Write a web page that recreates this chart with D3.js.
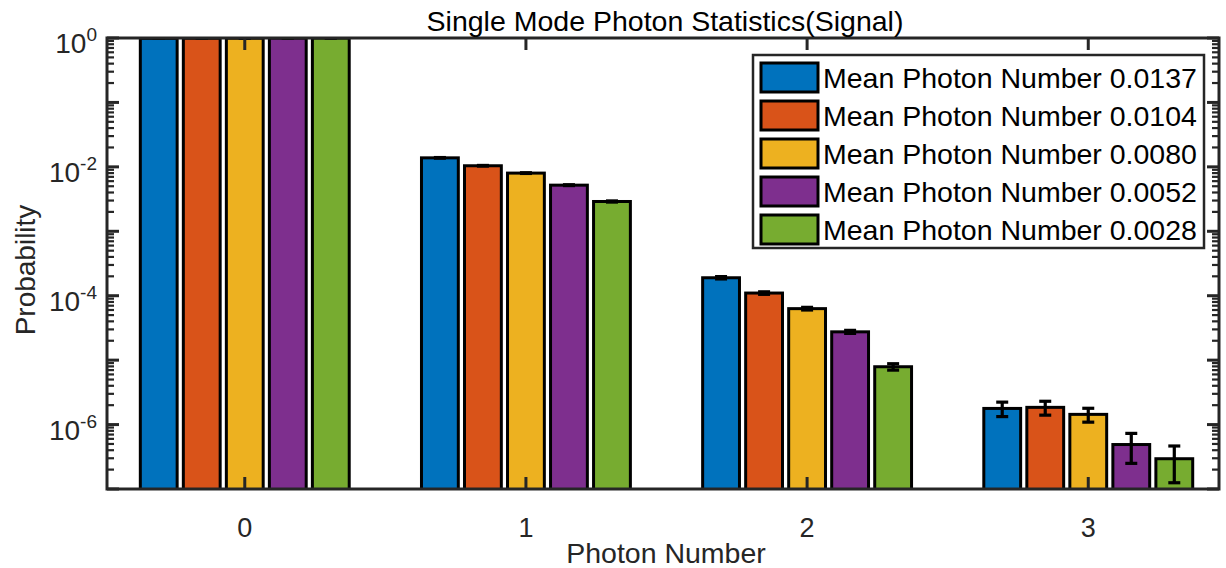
<!DOCTYPE html>
<html>
<head>
<meta charset="utf-8">
<script src="https://cdn.jsdelivr.net/npm/d3@7"></script>
<style>
  body { margin: 0; background: #fff; }
  svg { display: block; font-family: "Liberation Sans", Arial, Helvetica, sans-serif; }
</style>
</head>
<body>
<svg id="chart" width="1226" height="568"></svg>
<script>
// data
var photonNumbers = [0, 1, 2, 3];
var seriesLabels = [
  "Mean Photon Number 0.0137",
  "Mean Photon Number 0.0104",
  "Mean Photon Number 0.0080",
  "Mean Photon Number 0.0052",
  "Mean Photon Number 0.0028"
];
var seriesColors = ["#0072BD", "#D95319", "#EDB120", "#7E2F8E", "#77AC30"];
// probability per series, one value for each photon number
var probabilities = [
  [0.986, 1.38e-2, 1.90e-4, 1.78e-6],
  [0.990, 1.04e-2, 1.10e-4, 1.85e-6],
  [0.992, 8.0e-3, 6.3e-5, 1.44e-6],
  [0.995, 5.2e-3, 2.75e-5, 4.9e-7],
  [0.997, 2.9e-3, 7.9e-6, 2.95e-7]
];
var errors = [
  [0.001, 1.5e-4, 8e-6, 4.5e-7],
  [0.001, 1.2e-4, 5e-6, 4.5e-7],
  [0.001, 1.0e-4, 3e-6, 3.5e-7],
  [0.001, 8e-5, 1.5e-6, 2.4e-7],
  [0.001, 6e-5, 9e-7, 1.7e-7]
];
var yTickExponents = [0, -2, -4, -6];

(function(){
var svg = d3.select("#chart");
var pl = 107, pr = 1219, pt = 38, pb = 489;
var axisColor = "#262626";

var x = d3.scaleLinear().domain([-0.49, 3.465]).range([pl, pr]);
var y = d3.scaleLog().domain([1e-7, 1]).range([pb, pt]);

var groupStep = 0.153;   // distance between bars in a group (category units)
var barW = x(0.131) - x(0);

svg.append("defs").append("clipPath").attr("id", "plotclip")
  .append("rect").attr("x", pl).attr("y", pt).attr("width", pr - pl).attr("height", pb - pt);

var plot = svg.append("g").attr("clip-path", "url(#plotclip)");

probabilities.forEach(function(vals, s){
  var g = plot.append("g");
  g.selectAll("rect").data(vals).enter().append("rect")
    .attr("x", function(d, i){ return x(photonNumbers[i] + (s - 2) * groupStep) - barW / 2; })
    .attr("y", function(d){ return y(d); })
    .attr("width", barW)
    .attr("height", function(d){ return pb + 5 - y(d); })
    .attr("fill", seriesColors[s])
    .attr("stroke", "#000").attr("stroke-width", 3);
});

// error bars
probabilities.forEach(function(vals, s){
  vals.forEach(function(v, i){
    var cx = x(photonNumbers[i] + (s - 2) * groupStep);
    var hi = y(v + errors[s][i]), lo = y(Math.max(v - errors[s][i], 1e-9));
    var eb = plot.append("g").attr("stroke", "#000").attr("stroke-width", 3.2);
    eb.append("line").attr("x1", cx).attr("x2", cx).attr("y1", hi).attr("y2", lo);
    eb.append("line").attr("x1", cx - 6).attr("x2", cx + 6).attr("y1", hi).attr("y2", hi);
    eb.append("line").attr("x1", cx - 6).attr("x2", cx + 6).attr("y1", lo).attr("y2", lo);
  });
});

// axes box, then inward ticks on all four sides
svg.append("rect").attr("x", pl).attr("y", pt).attr("width", pr - pl).attr("height", pb - pt)
  .attr("fill", "none").attr("stroke", axisColor).attr("stroke-width", 3);

var allDecades = d3.range(-7, 1).map(function(e){ return Math.pow(10, e); });
var minorY = [];
d3.range(-7, 0).forEach(function(e){
  d3.range(2, 10).forEach(function(m){ minorY.push(m * Math.pow(10, e)); });
});

var ticks = svg.append("g").attr("stroke", axisColor);
minorY.forEach(function(v){
  ticks.append("line").attr("x1", pl).attr("x2", pl + 7).attr("y1", y(v)).attr("y2", y(v)).attr("stroke-width", 2.2);
  ticks.append("line").attr("x1", pr).attr("x2", pr - 7).attr("y1", y(v)).attr("y2", y(v)).attr("stroke-width", 2.2);
});
allDecades.forEach(function(v){
  ticks.append("line").attr("x1", pl).attr("x2", pl + 12).attr("y1", y(v)).attr("y2", y(v)).attr("stroke-width", 3);
  ticks.append("line").attr("x1", pr).attr("x2", pr - 12).attr("y1", y(v)).attr("y2", y(v)).attr("stroke-width", 3);
});
photonNumbers.forEach(function(p){
  ticks.append("line").attr("x1", x(p)).attr("x2", x(p)).attr("y1", pb).attr("y2", pb - 12).attr("stroke-width", 3);
  ticks.append("line").attr("x1", x(p)).attr("x2", x(p)).attr("y1", pt).attr("y2", pt + 12).attr("stroke-width", 3);
});

// tick labels
svg.selectAll(".xlab").data(photonNumbers).enter().append("text")
  .attr("x", function(d){ return x(d); }).attr("y", 537)
  .attr("text-anchor", "middle").attr("font-size", 27).attr("fill", axisColor)
  .text(function(d){ return d; });

yTickExponents.forEach(function(e){
  var t = svg.append("text").attr("x", 97).attr("y", y(Math.pow(10, e)) + 15)
    .attr("text-anchor", "end").attr("fill", axisColor).attr("font-size", 28);
  t.append("tspan").text("10");
  t.append("tspan").attr("dy", -12).attr("font-size", 19).text(String(e));
});

// titles
svg.append("text").attr("x", 665).attr("y", 31).attr("text-anchor", "middle")
  .attr("font-size", 28.5).attr("fill", "#000").text("Single Mode Photon Statistics(Signal)");
svg.append("text").attr("x", 666).attr("y", 563).attr("text-anchor", "middle")
  .attr("font-size", 28.5).attr("fill", axisColor).text("Photon Number");
svg.append("text").attr("transform", "translate(35,270) rotate(-90)").attr("text-anchor", "middle")
  .attr("font-size", 28).attr("fill", axisColor).text("Probability");

// legend
var legend = svg.append("g");
legend.append("rect").attr("x", 753).attr("y", 55).attr("width", 451).attr("height", 193)
  .attr("fill", "#fff").attr("stroke", axisColor).attr("stroke-width", 2.5);
seriesLabels.forEach(function(lbl, i){
  var yy = 63 + i * 38;
  legend.append("rect").attr("x", 761).attr("y", yy).attr("width", 57).attr("height", 29)
    .attr("fill", seriesColors[i]).attr("stroke", "#000").attr("stroke-width", 3);
  legend.append("text").attr("x", 823).attr("y", yy + 25).attr("font-size", 28.5).attr("fill", "#000").text(lbl);
});
})();
</script>
</body>
</html>
